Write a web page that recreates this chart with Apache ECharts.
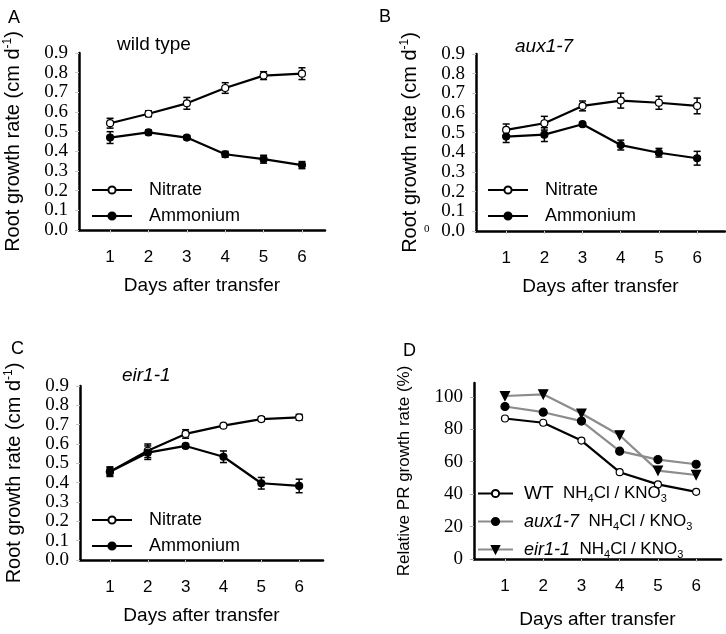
<!DOCTYPE html>
<html>
<head>
<meta charset="utf-8">
<script src="https://cdn.jsdelivr.net/npm/echarts@6/dist/echarts.min.js"></script>
<style>
html,body{margin:0;padding:0;background:#fff;}
#main{width:726px;height:634px;}
</style>
</head>
<body>
<div id="main"></div>
<script>
// days after transfer
var days = [1, 2, 3, 4, 5, 6];
var yTicksRel = [0, 20, 40, 60, 80, 100];

// A - wild type
var wtNitrate = [0.543, 0.591, 0.644, 0.722, 0.785, 0.795];
var wtNitrateErr = [0.025, 0.015, 0.03, 0.027, 0.02, 0.03];
var wtAmmonium = [0.470, 0.496, 0.470, 0.385, 0.360, 0.330];
var wtAmmoniumErr = [0.03, 0.012, 0.01, 0.015, 0.02, 0.018];

// B - aux1-7
var auxNitrate = [0.514, 0.548, 0.636, 0.663, 0.652, 0.636];
var auxNitrateErr = [0.03, 0.035, 0.025, 0.038, 0.033, 0.04];
var auxAmmonium = [0.480, 0.490, 0.543, 0.437, 0.398, 0.370];
var auxAmmoniumErr = [0.03, 0.035, 0.005, 0.025, 0.022, 0.035];

// C - eir1-1
var eirNitrate = [0.457, 0.565, 0.652, 0.695, 0.729, 0.738];
var eirNitrateErr = [0.02, 0.035, 0.022, 0.005, 0.012, 0.015];
var eirAmmonium = [0.457, 0.555, 0.590, 0.534, 0.397, 0.383];
var eirAmmoniumErr = [0.025, 0.035, 0.01, 0.03, 0.03, 0.035];

// D - relative PR growth rate (NH4Cl / KNO3, %)
var wtRel = [86.6, 84.0, 73.0, 53.5, 46.0, 41.4];
var auxRel = [94.0, 90.5, 85.0, 66.5, 61.3, 58.4];
var eirRel = [100.5, 101.5, 89.7, 76.3, 54.5, 51.8];

var chart = echarts.init(document.getElementById('main'), null, {renderer: 'canvas'});

var SANS = 'Liberation Sans, Arial, sans-serif';
var SERIF = 'Liberation Serif, Times New Roman, serif';

function pairs(vals) {
    return days.map(function (d, i) { return [d, vals[i]]; });
}
function triples(vals, errs) {
    return days.map(function (d, i) { return [d, vals[i], errs[i]]; });
}

function errorBars(idx, vals, errs) {
    return {
        type: 'custom',
        xAxisIndex: idx, yAxisIndex: idx,
        z: 1,
        silent: true,
        data: triples(vals, errs),
        renderItem: function (params, api) {
            var x = api.value(0), y = api.value(1), e = api.value(2);
            var hi = api.coord([x, y + e]);
            var lo = api.coord([x, y - e]);
            var w = 3.5;
            var st = {stroke: '#000', lineWidth: 1.5};
            return {
                type: 'group',
                children: [
                    {type: 'line', shape: {x1: hi[0], y1: hi[1], x2: lo[0], y2: lo[1]}, style: st},
                    {type: 'line', shape: {x1: hi[0] - w, y1: hi[1], x2: hi[0] + w, y2: hi[1]}, style: st},
                    {type: 'line', shape: {x1: lo[0] - w, y1: lo[1], x2: lo[0] + w, y2: lo[1]}, style: st}
                ]
            };
        }
    };
}

function lineSeries(idx, name, vals, opts) {
    return {
        type: 'line',
        name: name,
        xAxisIndex: idx, yAxisIndex: idx,
        z: 3,
        data: pairs(vals),
        symbol: opts.symbol || 'circle',
        symbolSize: opts.size || 7,
        symbolRotate: opts.rotate || 0,
        lineStyle: {color: opts.line || '#000', width: 2.2},
        itemStyle: {color: opts.fill, borderColor: '#000', borderWidth: 1.2},
        emphasis: {disabled: true}
    };
}

function xAxis(idx, min, max, gap) {
    return {
        type: 'value', gridIndex: idx, min: min, max: max,
        splitLine: {show: false},
        axisLine: {lineStyle: {color: '#000', width: 2.5}},
        axisTick: {show: true, length: 3, lineStyle: {color: '#c8c8c8'}, customValues: days},
        axisLabel: {customValues: days, margin: 19, fontFamily: SANS, fontSize: 17, color: '#000'},
        name: 'Days after transfer', nameLocation: 'middle', nameGap: gap || 46,
        nameTextStyle: {fontFamily: SANS, fontSize: 19, color: '#000'}
    };
}

var rateName = 'Root growth rate (cm d{sup|-1})';
function yAxisRate(idx) {
    return {
        type: 'value', gridIndex: idx, min: 0, max: 0.9, interval: 0.1,
        splitLine: {show: false},
        axisLine: {show: true, lineStyle: {color: '#000', width: 2.5}},
        axisTick: {show: true, length: 4, lineStyle: {color: '#c8c8c8'}},
        axisLabel: {margin: 11, fontFamily: SERIF, fontSize: 19, color: '#000',
            formatter: function (v) { return v.toFixed(1); }},
        name: rateName, nameLocation: 'middle', nameGap: 55,
        nameTextStyle: {fontFamily: SANS, fontSize: 20, color: '#000',
            rich: {sup: {fontFamily: SANS, fontSize: 12, color: '#000', padding: [0, 0, 10, 0]}}}
    };
}

function panelLegend(left, top, names, extra) {
    var lg = {
        data: names,
        orient: 'vertical',
        left: left, top: top,
        itemWidth: 40, itemHeight: 9,
        itemGap: 8,
        selectedMode: false,
        textStyle: {fontFamily: SANS, fontSize: 18, color: '#000', padding: [0, 0, 0, 12]}
    };
    if (extra) { for (var k in extra) lg[k] = extra[k]; }
    return lg;
}

var relLabels = {
    'WT': '{b|WT}  NH{s|4}Cl / KNO{s|3}',
    'aux1-7': '{i|aux1-7}  NH{s|4}Cl / KNO{s|3}',
    'eir1-1': '{i|eir1-1}  NH{s|4}Cl / KNO{s|3}'
};

var option = {
    backgroundColor: '#fff',
    animation: false,
    title: [
        {text: 'A', left: 3, top: 4, textStyle: {fontFamily: SANS, fontSize: 18, fontWeight: 'normal', color: '#000'}},
        {text: 'B', left: 374, top: 3, textStyle: {fontFamily: SANS, fontSize: 18, fontWeight: 'normal', color: '#000'}},
        {text: 'C', left: 6, top: 335, textStyle: {fontFamily: SANS, fontSize: 18, fontWeight: 'normal', color: '#000'}},
        {text: 'D', left: 398, top: 337, textStyle: {fontFamily: SANS, fontSize: 18, fontWeight: 'normal', color: '#000'}},
        {text: 'wild type', left: 112, top: 30, textStyle: {fontFamily: SANS, fontSize: 19, fontWeight: 'normal', color: '#000'}},
        {text: 'aux1-7', left: 510, top: 32, textStyle: {fontFamily: SANS, fontSize: 19, fontWeight: 'normal', fontStyle: 'italic', color: '#000'}},
        {text: 'eir1-1', left: 117, top: 361, textStyle: {fontFamily: SANS, fontSize: 19, fontWeight: 'normal', fontStyle: 'italic', color: '#000'}}
    ],
    graphic: [
        {type: 'text', left: 424, top: 224, style: {text: '0', font: '11px ' + SERIF, fill: '#000'}}
    ],
    legend: [
        panelLegend(86, 176, ['Nitrate', 'Ammonium']),
        panelLegend(482, 176, ['Nitrate', 'Ammonium']),
        panelLegend(86, 506, ['Nitrate', 'Ammonium']),
        panelLegend(472, 479, ['WT', 'aux1-7', 'eir1-1'], {
            itemWidth: 35, itemGap: 8,
            formatter: function (n) { return relLabels[n]; },
            textStyle: {fontFamily: SANS, fontSize: 17, color: '#000', padding: [0, 0, 0, 6],
                rich: {
                    b: {fontFamily: SANS, fontSize: 19, color: '#000'},
                    i: {fontFamily: SANS, fontSize: 18, fontStyle: 'italic', color: '#000'},
                    s: {fontFamily: SANS, fontSize: 11, color: '#000', padding: [11, 0, 0, 0]}
                }}
        })
    ],
    grid: [
        {left: 79, top: 53, width: 246, height: 177},
        {left: 476, top: 54, width: 249, height: 177},
        {left: 80, top: 386, width: 243, height: 174},
        {left: 474, top: 383, width: 247, height: 176}
    ],
    xAxis: [
        xAxis(0, 0.19, 6.6),
        xAxis(1, 0.21, 6.73),
        xAxis(2, 0.21, 6.63),
        xAxis(3, 0.19, 6.65, 51)
    ],
    yAxis: [
        yAxisRate(0),
        yAxisRate(1),
        yAxisRate(2),
        {
            type: 'value', gridIndex: 3, min: 0, max: 108.5,
            splitLine: {show: false},
            axisLine: {show: true, lineStyle: {color: '#000', width: 2.5}},
            axisTick: {show: true, length: 4, lineStyle: {color: '#aaa'}, customValues: yTicksRel},
            axisLabel: {customValues: yTicksRel, margin: 11, fontFamily: SERIF, fontSize: 19, color: '#000'},
            name: 'Relative PR growth rate (%)', nameLocation: 'middle', nameGap: 61,
            nameTextStyle: {fontFamily: SANS, fontSize: 17, color: '#000'}
        }
    ],
    series: [
        errorBars(0, wtNitrate, wtNitrateErr),
        errorBars(0, wtAmmonium, wtAmmoniumErr),
        lineSeries(0, 'Nitrate', wtNitrate, {fill: '#fff'}),
        lineSeries(0, 'Ammonium', wtAmmonium, {fill: '#000'}),

        errorBars(1, auxNitrate, auxNitrateErr),
        errorBars(1, auxAmmonium, auxAmmoniumErr),
        lineSeries(1, 'Nitrate', auxNitrate, {fill: '#fff'}),
        lineSeries(1, 'Ammonium', auxAmmonium, {fill: '#000'}),

        errorBars(2, eirNitrate, eirNitrateErr),
        errorBars(2, eirAmmonium, eirAmmoniumErr),
        lineSeries(2, 'Nitrate', eirNitrate, {fill: '#fff'}),
        lineSeries(2, 'Ammonium', eirAmmonium, {fill: '#000'}),

        lineSeries(3, 'WT', wtRel, {fill: '#fff'}),
        lineSeries(3, 'aux1-7', auxRel, {fill: '#000', line: '#8c8c8c', size: 8}),
        lineSeries(3, 'eir1-1', eirRel, {fill: '#000', line: '#8c8c8c', symbol: 'triangle', rotate: 180, size: 9})
    ]
};

chart.setOption(option);
</script>
</body>
</html>
